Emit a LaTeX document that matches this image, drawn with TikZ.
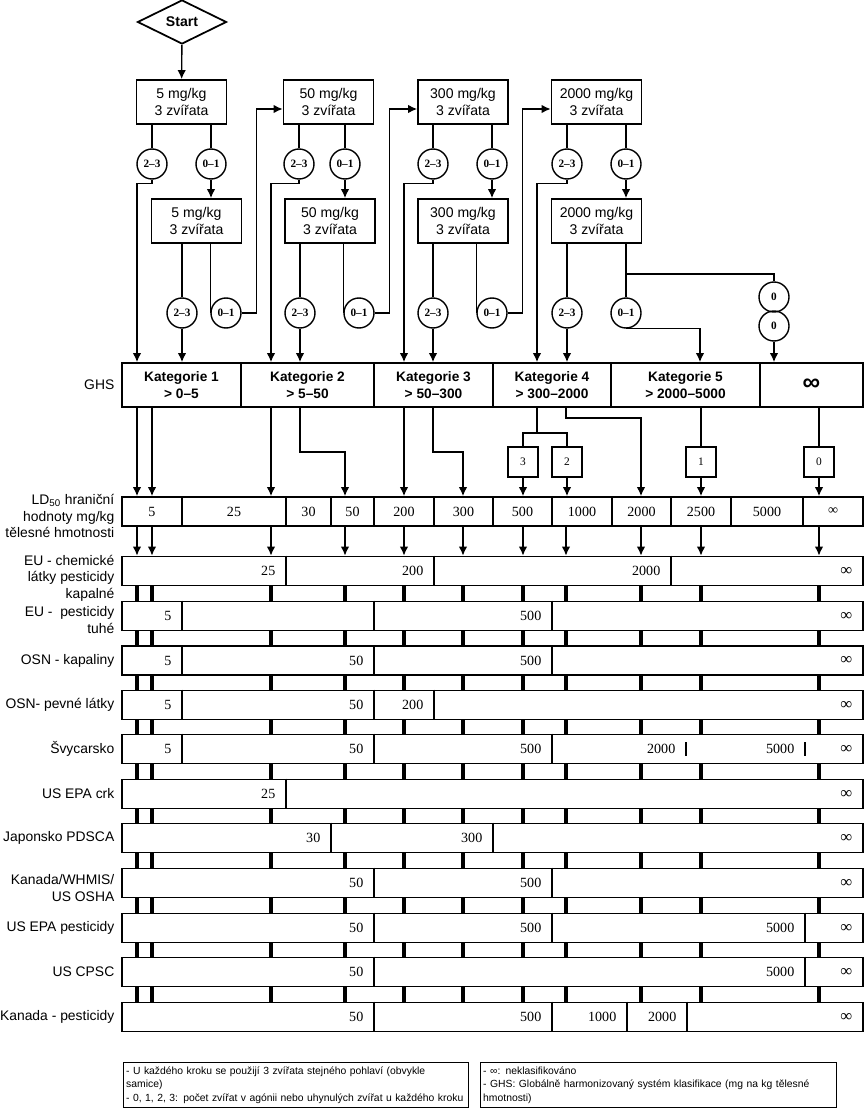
\documentclass[tikz,border=0pt]{standalone}
\usepackage{fontspec}
\setmainfont{Liberation Serif}
\setsansfont{Liberation Sans}
\usetikzlibrary{shapes.geometric,arrows.meta,positioning,calc}

\begin{document}
\begin{tikzpicture}[
    x=0.2mm, y=-0.2mm, thick,
    arr/.style={-{Latex[length=1.8mm,width=1.7mm]}},
    startnode/.style={draw, line width=1pt, diamond, aspect=2, minimum width=17.8mm, minimum height=8.8mm, inner sep=0pt, font=\sffamily\bfseries\fontsize{8}{9}\selectfont},
    dose/.style={draw, line width=1pt, minimum width=18mm, minimum height=8.8mm, align=center, inner sep=1pt, font=\sffamily\fontsize{8}{9.4}\selectfont},
    res/.style={draw, circle, minimum size=6mm, inner sep=0pt, font=\bfseries\fontsize{6.4}{7}\selectfont},
    cnt/.style={draw, minimum size=6mm, inner sep=0pt, font=\fontsize{6.5}{7}\selectfont},
    ghscell/.style={draw, line width=1pt, minimum height=8.8mm, align=center, inner sep=1pt, font=\sffamily\bfseries\fontsize{7.8}{9.6}\selectfont},
    regrow/.style={draw, fill=white, line width=1pt, minimum width=148.2mm, minimum height=5.8mm, inner sep=0pt},
    divline/.style={line width=1pt},
    tickbar/.style={line width=2.2pt},
    lbl/.style={anchor=east, align=right, inner sep=0pt, font=\sffamily\fontsize{7.9}{9.4}\selectfont},
    num/.style={inner sep=0pt, font=\fontsize{8}{9}\selectfont},
    val/.style={num, anchor=east},
    note/.style={draw, anchor=north west, align=left, inner xsep=0.5mm, inner ysep=0.6mm, minimum height=9mm, font=\sffamily\fontsize{5.9}{7.6}\selectfont}
]
\useasboundingbox (0,0) rectangle (866,1110);
\def\tickxs{137,152,271,345,404,463,523,566,641,701,819}

% bars run behind the rows; the white rows cut them into pieces
\foreach \x in \tickxs \draw[tickbar] (\x,560) -- (\x,1028);
\node[regrow] (ld) at (492.5,511.5) {};
\node[regrow] (eu1) at (492.5,571) {};
\node[regrow] (eu2) at (492.5,616) {};
\node[regrow] (osn1) at (492.5,660.5) {};
\node[regrow] (osn2) at (492.5,705) {};
\node[regrow] (svy) at (492.5,749) {};
\node[regrow] (epa1) at (492.5,794) {};
\node[regrow] (jap) at (492.5,838) {};
\node[regrow] (kan1) at (492.5,883) {};
\node[regrow] (epa2) at (492.5,928) {};
\node[regrow] (cpsc) at (492.5,972) {};
\node[regrow] (kan2) at (492.5,1017) {};
\foreach \x in \tickxs \draw[arr] (\x,0 |- ld.south) -- (\x,0 |- eu1.north);

\node[startnode] (start) at (182,22) {Start};
\foreach \i/\ax/\bx/\ua/\ub/\la/\lb/\d in {1/181.5/196.5/152/211/182/226/5, 2/328.5/330/299/345/300/359/50, 3/463/463/433/492/433/492/300, 4/596.5/596.5/567/626/567/626/2000} {
    \node[dose] (a\i) at (\ax,102) {\d{} mg/kg\\3 zvířata};
    \node[dose] (b\i) at (\bx,221) {\d{} mg/kg\\3 zvířata};
    \node[res] (ua\i) at (\ua,164) {2–3};
    \node[res] (ub\i) at (\ub,164) {0–1};
    \node[res] (la\i) at (\la,313) {2–3};
    \node[res] (lb\i) at (\lb,313) {0–1};
}
\node[res] (z1) at (774,297) {0};
\node[res] (z2) at (774,326) {0};

\node[lbl] at (115,385) {GHS};
\foreach \l/\r/\t [count=\i] in {122/241/{Kategorie 1\\> 0–5}, 241/374/{Kategorie 2\\> 5–50}, 374/493/{Kategorie 3\\> 50–300}, 493/611/{Kategorie 4\\> 300–2000}, 611/760/{Kategorie 5\\> 2000–5000}, 760/863/{\fontsize{14}{14}\selectfont ∞}}
    \node[ghscell, minimum width={(\r-\l)*0.2mm}] (g\i) at ({(\l+\r)/2},385) {\t};

\draw[arr] (start) -- (a1);
\foreach \i/\xl in {1/137,2/271,3/404,4/537} {
    \draw (a\i.south -| ua\i) -- (ua\i);
    \draw (a\i.south -| ub\i) -- (ub\i);
    \draw[arr] (ub\i) -- (ub\i |- b\i.north);
    \draw[arr] (ua\i.south) -- ++(0,4) -| (\xl,0 |- g1.north);
    \draw (b\i.south -| la\i) -- (la\i);
    \draw[arr] (la\i) -- (la\i |- g1.north);
}
\foreach \i/\j in {1/2,2/3,3/4} {
    \draw (b\i.south -| lb\i.west) -- (lb\i.west);
    \draw[arr] (lb\i.east) -- ++(15,0) |- ([yshift=-1.4mm]a\j.west);
}
\draw (b4.south -| lb4) -- (lb4);
\coordinate (split) at ($(b4.south -| lb4)+(0,30)$);
\draw (split) -| (z1);
\draw[arr] (z2) -- (z2 |- g1.north);
\draw[arr] (lb4.south) -| (700,0 |- g1.north);

% GHS -> LD50
\node[lbl] at (115,516) {LD\textsubscript{50} hraniční\\hodnoty mg/kg\\tělesné hmotnosti};
\foreach \l/\r/\v in {122/182/5,182/286/25,286/331/30,331/374/50,374/434/200,434/493/300,493/552/500,552/612/1000,612/671/2000,671/731/2500,731/803/5000,803/863/∞} {
    \draw[divline] (\r,0 |- ld.north) -- (\r,0 |- ld.south);
    \node[num] at ({(\l+\r)/2},511.5) {\v};
}
\node[cnt] (n3) at (523,462) {3};
\node[cnt] (n2) at (567,462) {2};
\node[cnt] (n1) at (701,462) {1};
\node[cnt] (n0) at (819,462) {0};
\foreach \x in {137,152} \draw[arr] (\x,0 |- g1.south) -- (\x,0 |- ld.north);
\draw[arr] (271,0 |- g2.south) -- (271,0 |- ld.north);
\draw[arr] (300,0 |- g2.south) -- ++(0,44) -| (345,0 |- ld.north);
\draw[arr] (404,0 |- g3.south) -- (404,0 |- ld.north);
\draw[arr] (433,0 |- g3.south) -- ++(0,44) -| (463,0 |- ld.north);
\draw (537,0 |- g4.south) -- ++(0,25) coordinate (k4);
\draw (n3) |- (k4) -| (n2);
\draw[arr] (566,0 |- g4.south) -- ++(0,10) -| (641,0 |- ld.north);
\draw (n1 |- g5.south) -- (n1);
\draw (n0 |- g6.south) -- (n0);
\foreach \n in {n3,n2,n1,n0} \draw[arr] (\n) -- (\n |- ld.north);

% regulatory rows: labels, dividers, limits
\node[lbl] at (115,578) {EU - chemické\\látky pesticidy\\kapalné};
\foreach \x in {286,434,671} \draw[divline] (\x,0 |- eu1.north) -- (\x,0 |- eu1.south);
\foreach \x/\v in {286/25,434/200,671/2000} \node[val] at ({\x-10},571) {\v};

\node[lbl] at (115,620) {EU -\ \ pesticidy\\tuhé};
\foreach \x in {182,374,552} \draw[divline] (\x,0 |- eu2.north) -- (\x,0 |- eu2.south);
\foreach \x/\v in {182/5,552/500} \node[val] at ({\x-10},616) {\v};

\node[lbl] at (115,660.5) {OSN - kapaliny};
\foreach \x in {182,374,552} \draw[divline] (\x,0 |- osn1.north) -- (\x,0 |- osn1.south);
\foreach \x/\v in {182/5,374/50,552/500} \node[val] at ({\x-10},660.5) {\v};

\node[lbl] at (115,705) {OSN- pevné látky};
\foreach \x in {182,374,434} \draw[divline] (\x,0 |- osn2.north) -- (\x,0 |- osn2.south);
\foreach \x/\v in {182/5,374/50,434/200} \node[val] at ({\x-10},705) {\v};

\node[lbl] at (115,749) {Švycarsko};
\foreach \x in {182,374,552} \draw[divline] (\x,0 |- svy.north) -- (\x,0 |- svy.south);
\foreach \x in {686,805} \draw[divline] ($(\x,0 |- svy)+(0,-7)$) -- ++(0,14);
\foreach \x/\v in {182/5,374/50,552/500,686/2000,805/5000} \node[val] at ({\x-10},749) {\v};

\node[lbl] at (115,794) {US EPA crk};
\draw[divline] (286,0 |- epa1.north) -- (286,0 |- epa1.south);
\node[val] at (276,794) {25};

\node[lbl] at (115,838) {Japonsko PDSCA};
\foreach \x in {331,493} \draw[divline] (\x,0 |- jap.north) -- (\x,0 |- jap.south);
\foreach \x/\v in {331/30,493/300} \node[val] at ({\x-10},838) {\v};

\node[lbl] at (115,888) {Kanada/WHMIS/\\US OSHA};
\foreach \x in {374,552} \draw[divline] (\x,0 |- kan1.north) -- (\x,0 |- kan1.south);
\foreach \x/\v in {374/50,552/500} \node[val] at ({\x-10},883) {\v};

\node[lbl] at (115,928) {US EPA pesticidy};
\foreach \x in {374,552,805} \draw[divline] (\x,0 |- epa2.north) -- (\x,0 |- epa2.south);
\foreach \x/\v in {374/50,552/500,805/5000} \node[val] at ({\x-10},928) {\v};

\node[lbl] at (115,972) {US CPSC};
\foreach \x in {374,805} \draw[divline] (\x,0 |- cpsc.north) -- (\x,0 |- cpsc.south);
\foreach \x/\v in {374/50,805/5000} \node[val] at ({\x-10},972) {\v};

\node[lbl] at (115,1017) {Kanada - pesticidy};
\foreach \x in {374,552,627,687} \draw[divline] (\x,0 |- kan2.north) -- (\x,0 |- kan2.south);
\foreach \x/\v in {374/50,552/500,627/1000,687/2000} \node[val] at ({\x-10},1017) {\v};

\foreach \r in {eu1,eu2,osn1,osn2,svy,epa1,jap,kan1,epa2,cpsc,kan2}
    \node[val, font=\fontsize{9.5}{10}\selectfont] at (853,0 |- \r) {∞};

\node[note, text width=68mm] (leg1) at (123,1062) {- U každého kroku se použijí 3 zvířata stejného pohlaví (obvykle\\samice)\\- 0, 1, 2, 3: počet zvířat v agónii nebo uhynulých zvířat u každého kroku};
\node[note, text width=70.2mm] (leg2) at (480,1062) {- ∞: neklasifikováno\\- GHS: Globálně harmonizovaný systém klasifikace (mg na kg tělesné\\hmotnosti)};
\end{tikzpicture}
\end{document}
